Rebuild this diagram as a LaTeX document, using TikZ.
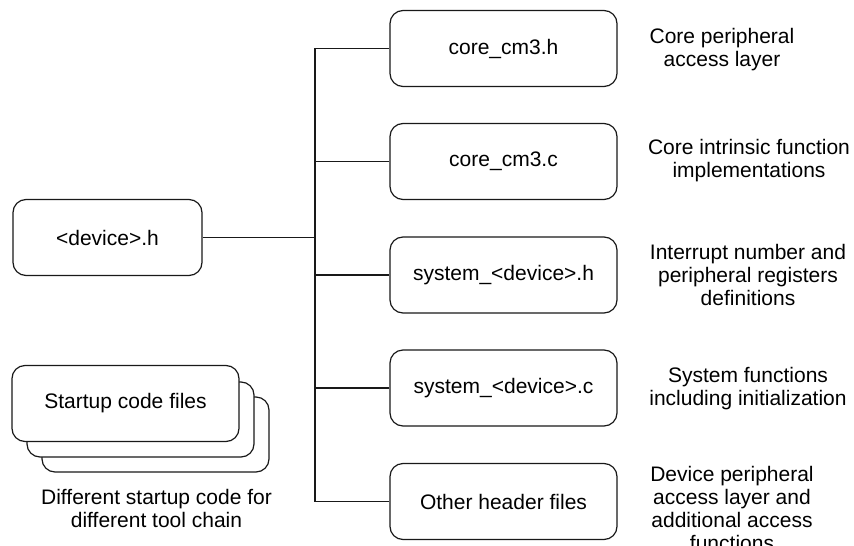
\documentclass[tikz,border=0pt]{standalone}
\usepackage{fontspec}
\setmainfont{Liberation Sans}
\begin{document}
\begin{tikzpicture}[x=1pt,y=-1pt,
  line width=1.2pt,
  filebox/.style={draw=black!90, fill=white, rounded corners=13pt, inner sep=0pt,
    minimum width=227pt, minimum height=76pt, font=\fontsize{21}{23}\selectfont},
  devbox/.style={filebox, minimum width=189pt},
  desc/.style={align=center, inner sep=0pt, font=\fontsize{21}{23}\selectfont},
  wire/.style={draw=black!90}]
\useasboundingbox (0,0) rectangle (854,546);

% header file and the files it pulls in
\node[devbox] (dev) at (107.5,237.5) {<device>.h};
\node[filebox] (b1) at (503.5,48.5)  {core\_cm3.h};
\node[filebox] (b2) at (503.5,161.5) {core\_cm3.c};
\node[filebox] (b3) at (503.5,275)   {system\_<device>.h};
\node[filebox] (b4) at (503.5,388)   {system\_<device>.c};
\node[filebox] (b5) at (503.5,501.5) {Other header files};

% descriptions beside each file
\node[desc] (d1) at (722,50)  {Core peripheral\\access layer};
\node[desc] (d2) at (749,161) {Core intrinsic function\\implementations};
\node[desc] (d3) at (748,275) {Interrupt number and\\peripheral registers\\definitions};
\node[desc] (d4) at (748,389) {System functions\\including initialization};
\node[desc] (d5) at (732,508) {Device peripheral\\access layer and\\additional access\\functions};

% tree connectors
\coordinate (trunk) at (315,0);
\draw[wire] (b1.west) -| (b5.west -| trunk) -- (b5.west);
\draw[wire] (b2.west) -- (b2.west -| trunk);
\draw[wire] (b3.west) -- (b3.west -| trunk);
\draw[wire] (b4.west) -- (b4.west -| trunk);
\draw[wire] (dev.east) -- (dev.east -| trunk);

% stack of startup files
\node[filebox, minimum height=75pt] (s3) at (155.5,434.5) {};
\node[filebox, minimum height=75pt] (s2) at (140.5,419.5) {};
\node[filebox] (s1) at (125.5,403.5) {Startup code files};
\node[desc] (cap) at (156.5,508) {Different startup code for\\different tool chain};
\end{tikzpicture}
\end{document}
